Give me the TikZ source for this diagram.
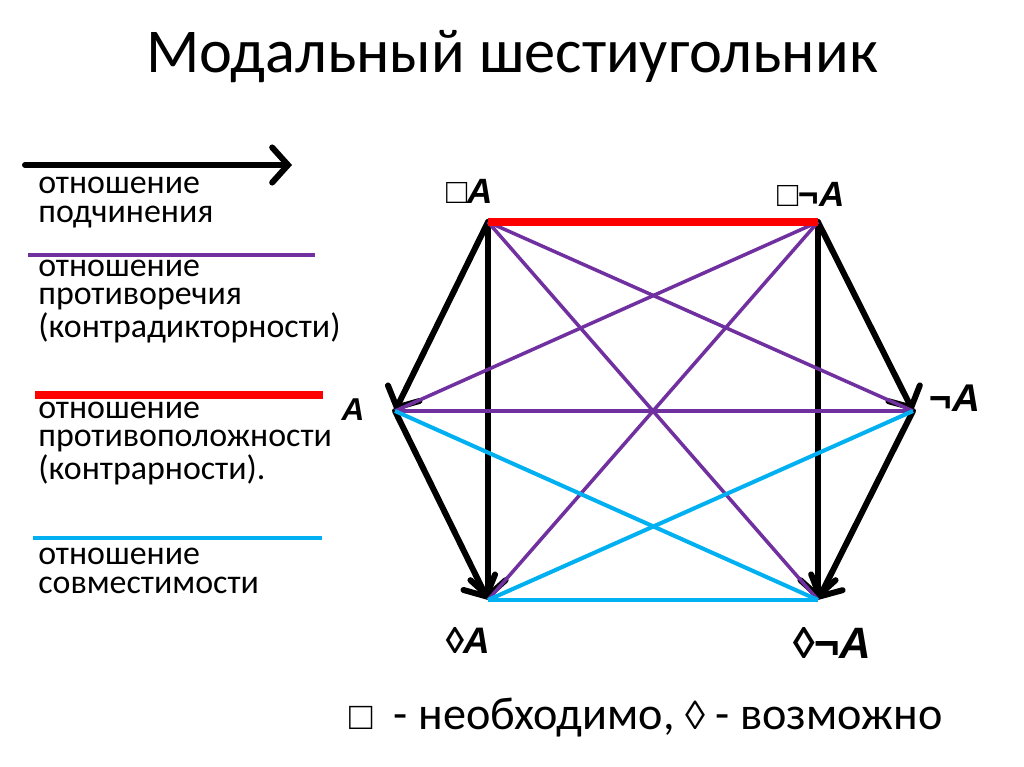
\documentclass[tikz,border=0pt]{standalone}
\usepackage{fontspec}
\setmainfont{Carlito}
\newfontfamily\lblfont{Liberation Sans}
\usetikzlibrary{arrows.meta}

\definecolor{contrad}{HTML}{7030A0}
\definecolor{contrar}{HTML}{FF0000}
\definecolor{subcon}{HTML}{00B0F0}

\tikzset{
  subord/.style={line width=3.4pt, line cap=round,
    -{Straight Barb[length=9pt,width=20pt,line cap=round]}},
  contradline/.style={contrad, line width=2pt},
  contrarline/.style={contrar, line width=4pt},
  subconline/.style={subcon, line width=2.3pt},
  legtext/.style={anchor=base west, align=left, inner sep=0pt,
    font=\fontsize{19.3}{16.3}\selectfont},
  vlabel/.style={inner sep=0pt, font=\lblfont\bfseries\itshape}
}

\begin{document}
\begin{tikzpicture}[x=0.02cm, y=-0.02cm]
\useasboundingbox (0,0) rectangle (1024,767);

\node (title) at (512,57) {\fontsize{35.5}{40}\selectfont Модальный шестиугольник};

% vertices of the hexagon
\coordinate (nec)     at (488,222);
\coordinate (necnot)  at (818,222);
\coordinate (a)       at (395,411);
\coordinate (nota)    at (913,411);
\coordinate (poss)    at (488,600);
\coordinate (possnot) at (818,600);

% subordination
\foreach \from/\to in {nec/a, nec/poss, a/poss, necnot/nota, necnot/possnot, nota/possnot}
  \draw[subord] (\from) -- (\to);
% contradiction
\foreach \from/\to in {nec/possnot, necnot/poss, a/nota, nec/nota, necnot/a}
  \draw[contradline] (\from) -- (\to);
% subcontrariety
\foreach \from/\to in {a/possnot, poss/nota, poss/possnot}
  \draw[subconline] (\from) -- (\to);
% contrariety
\draw[contrarline] (nec) -- (necnot);

% labels
\node[vlabel, font=\lblfont\bfseries\itshape\fontsize{20}{22}\selectfont] (lnec) at (470,191) {□A};
\node[vlabel, font=\lblfont\bfseries\itshape\fontsize{20}{22}\selectfont] (lnecnot) at (811,194) {□¬A};
\node[vlabel, font=\lblfont\bfseries\itshape\fontsize{18}{20}\selectfont] (la) at (353,410) {A};
\node[vlabel, font=\lblfont\bfseries\itshape\fontsize{22}{24}\selectfont] (lnota) at (955,398) {¬A};
\node[vlabel, font=\lblfont\bfseries\itshape\fontsize{21}{24}\selectfont] (lposs) at (468,640) {◊A};
\node[vlabel, font=\lblfont\bfseries\itshape\fontsize{25}{27}\selectfont] (lpossnot) at (832,643) {◊¬A};

% legend
\draw[subord] (25,165) -- (292,165);
\node[legtext] (leg1) at (38,222) {отношение\\подчинения};
\draw[contradline] (28,255) -- (315,255);
\node[legtext] (leg2) at (38,337) {отношение\\противоречия\\(контрадикторности)};
\draw[contrarline] (35,395) -- (323,395);
\node[legtext] (leg3) at (38,479) {отношение\\противоположности\\(контрарности).};
\draw[subconline] (33,538) -- (322,538);
\node[legtext] (leg4) at (38,593) {отношение\\совместимости};

\node (note) at (646,718) {\fontsize{26.3}{30}\selectfont{\lblfont\fontsize{22}{30}\selectfont □}\ \ - необходимо, {\lblfont\fontsize{23}{30}\selectfont ◊} - возможно};
\end{tikzpicture}
\end{document}
